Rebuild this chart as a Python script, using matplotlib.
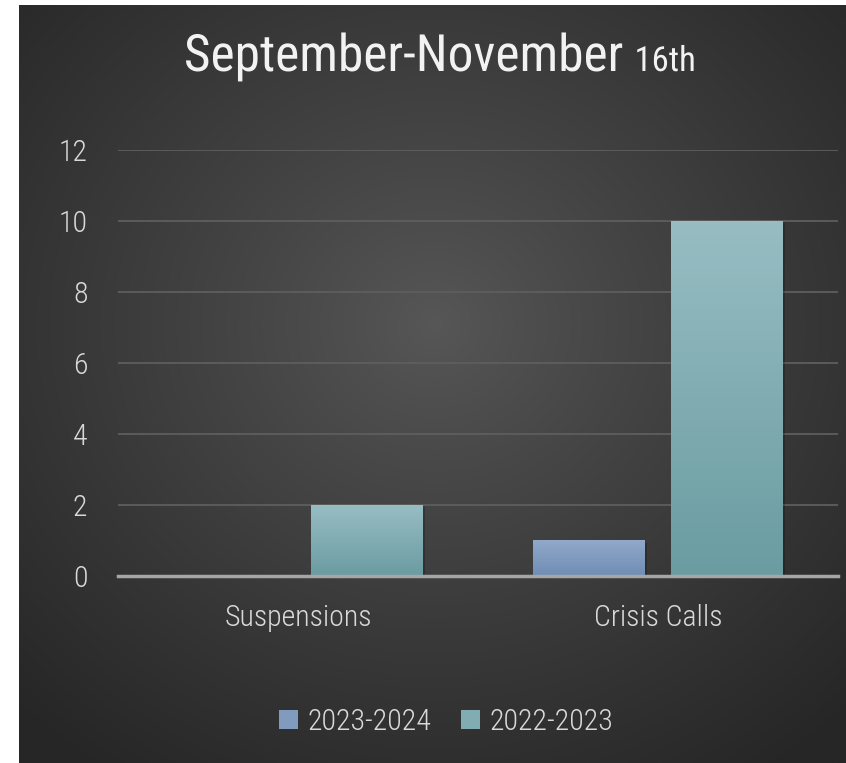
import numpy as np
import matplotlib
matplotlib.use("Agg")
import matplotlib.pyplot as plt
from matplotlib import font_manager as fm
from matplotlib.patches import Patch
import matplotlib.patheffects as pe

# ---- data ----
categories = ["Suspensions", "Crisis Calls"]
series_names = ["2023-2024", "2022-2023"]
values_2023_2024 = [0, 1]
values_2022_2023 = [2, 10]
yticks = [0, 2, 4, 6, 8, 10, 12]
title_main = "September-November"
title_small = "16th"

# ---- font choice ----
names = {f.name for f in fm.fontManager.ttflist}
FONT = "DejaVu Sans"
STRETCH = "condensed"
for cand in ["Roboto Condensed", "Liberation Sans Narrow", "Open Sans Condensed"]:
    if cand in names:
        FONT = cand
        break
plt.rcParams["font.family"] = [FONT, "DejaVu Sans"]
WEIGHT = "light"
LAB_SIZE = 21.5

W, H = 846, 763
fig = plt.figure(figsize=(W / 100, H / 100), dpi=100)
fig.patch.set_facecolor("white")

# background panel with radial gradient
bx0, by_top = 19, 5
bg = fig.add_axes([bx0 / W, 0, (W - bx0) / W, (H - by_top) / H])
bg.set_axis_off()
ny, nx = 300, 330
yy, xx = np.mgrid[0:ny, 0:nx]
cx, cy = nx * 0.50, ny * 0.42
r = np.sqrt(((xx - cx) / nx) ** 2 + ((yy - cy) / ny) ** 2)
r = np.clip(r / 0.72, 0, 1)
inner = np.array([0x57, 0x57, 0x57]) / 255
outer = np.array([0x26, 0x26, 0x26]) / 255
img = inner[None, None, :] * (1 - r[..., None] ** 0.9) + outer[None, None, :] * (r[..., None] ** 0.9)
bg.imshow(img, aspect="auto", extent=[0, 1, 0, 1], origin="upper", interpolation="bilinear")
bg.set_xlim(0, 1)
bg.set_ylim(0, 1)

# main axes
x0, x1 = 118, 838
y0, y12 = 576, 150
ax = fig.add_axes([x0 / W, (H - y0) / H, (x1 - x0) / W, (y0 - y12) / H])
ax.patch.set_alpha(0)

xpos = np.arange(len(categories))
bw = 0.311
off = 0.1917

grad_blue = (np.array([0x92, 0xa9, 0xc9]) / 255, np.array([0x6f, 0x8d, 0xb5]) / 255)
grad_teal = (np.array([0x97, 0xbd, 0xc3]) / 255, np.array([0x6a, 0x9c, 0xa1]) / 255)


def draw_bars(xs, vals, grad):
    bars = ax.bar(xs, vals, width=bw, color=(grad[0] + grad[1]) / 2, zorder=3,
                  path_effects=[pe.SimplePatchShadow(offset=(1.5, -1.5), alpha=0.2, shadow_rgbFace="black"),
                                pe.Normal()])
    for b in bars:
        h = b.get_height()
        if h <= 0:
            continue
        g = np.linspace(0, 1, 100)[:, None, None]
        im = grad[0][None, None, :] * (1 - g) + grad[1][None, None, :] * g
        xb = b.get_x()
        ax.imshow(im, extent=[xb, xb + b.get_width(), 0, h], aspect="auto", origin="upper",
                  zorder=3.5, clip_path=b, clip_on=True)
    return bars


draw_bars(xpos - off, values_2023_2024, grad_blue)
draw_bars(xpos + off, values_2022_2023, grad_teal)
ax.set_xlim(-0.5, 1.5)
ax.set_ylim(0, 12)

# grid
ax.set_yticks(yticks)
ax.yaxis.grid(True, color="#5e5e5e", linewidth=1.3, zorder=0)
ax.set_axisbelow(True)
for s in ["top", "right", "left"]:
    ax.spines[s].set_visible(False)
ax.spines["bottom"].set_color("#a6a6a6")
ax.spines["bottom"].set_linewidth(2.5)
ax.spines["bottom"].set_zorder(4)

ax.set_xticks(xpos)
ax.set_xticklabels(categories)
for lab in ax.get_xticklabels() + ax.get_yticklabels():
    lab.set_fontsize(LAB_SIZE)
    lab.set_color("#d9d9d9")
    lab.set_fontstretch(STRETCH)
    lab.set_fontweight(WEIGHT)
ax.tick_params(axis="y", length=0, pad=22)
ax.tick_params(axis="x", length=0, pad=20)

# title
t1 = fig.text(0, 0, title_main, fontsize=37, color="#f2f2f2", fontstretch=STRETCH)
t2 = fig.text(0, 0, title_small, fontsize=25, color="#f2f2f2", fontstretch=STRETCH)
fig.canvas.draw()
rend = fig.canvas.get_renderer()
w1 = t1.get_window_extent(rend).width
w2 = t2.get_window_extent(rend).width
gap = 11
cxp = 440
start = cxp - (w1 + gap + w2) / 2
base_y = H - 71
for t, xs in ((t1, start), (t2, start + w1 + gap)):
    t.set_position((xs / W, base_y / H))
    t.set_va("baseline")
    t.set_path_effects([pe.SimpleLineShadow(offset=(1.2, -1.2), alpha=0.0), pe.Normal()])

# legend
handles = [Patch(facecolor=(grad_blue[0] + grad_blue[1]) / 2, edgecolor="none"),
           Patch(facecolor=(grad_teal[0] + grad_teal[1]) / 2, edgecolor="none")]
leg = fig.legend(handles, series_names, loc="center", bbox_to_anchor=(446 / W, 1 - 722 / H),
                 ncol=2, frameon=False, fontsize=LAB_SIZE, handlelength=0.65, handleheight=0.65,
                 handletextpad=0.3, columnspacing=1.0, labelcolor="#d9d9d9")
for t in leg.get_texts():
    t.set_fontstretch(STRETCH)
    t.set_fontweight(WEIGHT)

fig.savefig("out.png", dpi=100, facecolor=fig.get_facecolor())
